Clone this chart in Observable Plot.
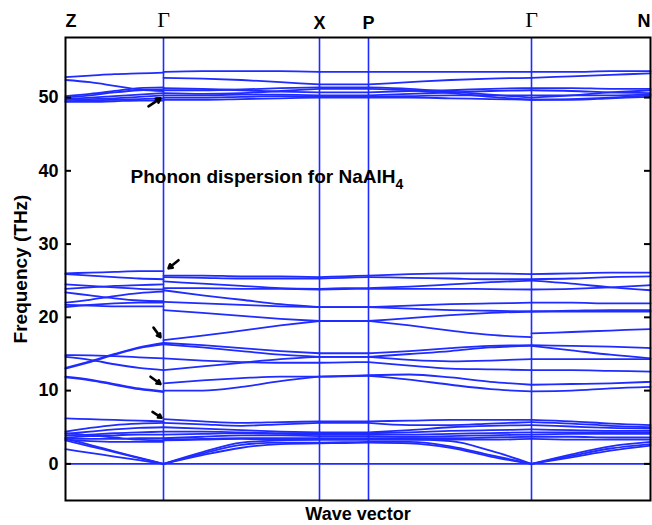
<!DOCTYPE html>
<html><head><meta charset="utf-8">
<script src="https://cdn.jsdelivr.net/npm/d3@7"></script>
<script src="https://cdn.jsdelivr.net/npm/@observablehq/plot@0.6"></script>
<style>body{margin:0;background:#fff} #chart svg{display:block}</style>
</head><body><div id="chart"></div>
<script>
// High-symmetry points along the path
const kLabels = ["Z", "Γ", "X", "P", "Γ", "N"];
const kPos = [0, 0.98, 2.54, 3.03, 4.66, 5.85];
const yTicks = [0, 10, 20, 30, 40, 50];

// sample positions of each path segment
const seg1X = [0, 0.245, 0.49, 0.735, 0.98];        // Z - Γ
const seg2X = [0.98, 1.37, 1.76, 2.15, 2.54];       // Γ - X
const seg3X = [2.54, 2.785, 3.03];                  // X - P
const seg4X = [3.03, 3.44, 3.85, 4.25, 4.66];       // P - Γ
const seg5X = [4.66, 5.06, 5.45, 5.85];             // Γ - N

// band frequencies (THz)
const seg1Bands = [
  [3.4, 2.6, 1.7, 0.85, 0], [3.2, 2.4, 1.6, 0.8, 0], [2.0, 1.5, 1.0, 0.5, 0],
  [6.2, 6.1, 6.0, 5.9, 5.8], [4.4, 4.9, 5.3, 5.5, 5.6], [4.1, 4.4, 4.7, 4.9, 5.0],
  [3.9, 4.0, 4.2, 4.3, 4.4], [3.6, 3.8, 3.9, 4.0, 4.0], [3.5, 3.4, 3.4, 3.5, 3.5],
  [3.3, 3.1, 3.0, 3.0, 3.0], [4.2, 3.9, 3.6, 3.3, 3.2],
  [13.1, 14.0, 15.0, 15.9, 16.5], [13.0, 13.9, 14.9, 15.8, 16.3], [14.85, 14.8, 14.7, 14.55, 14.4],
  [14.6, 14.2, 13.6, 13.1, 12.8], [11.9, 11.5, 10.9, 10.3, 9.9], [11.8, 11.4, 10.8, 10.2, 9.8],
  [26.0, 26.1, 26.2, 26.3, 26.3], [25.9, 25.7, 25.5, 25.3, 25.2], [24.5, 24.3, 24.1, 23.9, 23.8],
  [23.9, 24.1, 24.3, 24.4, 24.5], [23.4, 23.0, 22.6, 22.3, 22.2], [22.0, 22.4, 22.9, 23.3, 23.5],
  [21.7, 21.6, 21.5, 21.5, 21.5], [21.4, 21.7, 21.9, 22.0, 22.0],
  [52.8, 53.0, 53.2, 53.3, 53.4], [52.4, 52.1, 51.6, 51.1, 50.9], [50.2, 50.5, 50.9, 51.3, 51.4],
  [50.0, 50.3, 50.7, 51.0, 51.1], [49.8, 50.0, 50.2, 50.4, 50.6], [49.7, 49.8, 49.9, 50.1, 50.3],
  [49.5, 49.6, 49.7, 49.8, 49.9], [49.4, 49.4, 49.5, 49.6, 49.6]
];
const seg2Bands = [
  [0, 1.6, 2.9, 3.2, 3.3], [0, 1.4, 2.6, 2.9, 2.9], [0, 1.2, 2.2, 2.7, 2.8],
  [6.1, 5.8, 5.6, 5.7, 5.8], [5.6, 5.4, 5.2, 5.4, 5.6], [5.0, 4.8, 4.6, 4.4, 4.3],
  [4.4, 4.4, 4.3, 4.2, 4.2], [4.0, 4.1, 4.2, 4.1, 4.0], [3.5, 3.7, 3.9, 3.9, 3.8],
  [3.3, 3.4, 3.5, 3.5, 3.5], [3.2, 3.3, 3.4, 3.3, 3.3],
  [16.5, 16.2, 15.8, 15.4, 15.1], [16.3, 15.9, 15.4, 14.9, 14.6], [14.4, 14.1, 13.9, 13.8, 13.8],
  [12.8, 13.3, 13.8, 14.3, 14.6], [11.0, 11.4, 11.7, 11.9, 11.9], [10.0, 10.0, 10.5, 11.3, 11.9],
  [25.7, 25.7, 25.6, 25.6, 25.5], [25.5, 25.4, 25.3, 25.3, 25.3], [24.9, 24.6, 24.3, 24.0, 23.9],
  [24.0, 24.0, 23.9, 23.9, 23.8], [23.7, 23.0, 22.4, 21.8, 21.4], [22.1, 21.9, 21.7, 21.5, 21.4],
  [21.0, 20.6, 20.2, 19.8, 19.5], [16.9, 17.5, 18.2, 18.9, 19.5],
  [53.5, 53.6, 53.6, 53.6, 53.5], [52.7, 52.6, 52.4, 52.1, 51.8], [51.3, 51.2, 51.0, 50.8, 50.7],
  [51.0, 51.0, 51.1, 51.3, 51.4], [50.6, 50.5, 50.6, 50.9, 51.2], [50.3, 50.3, 50.4, 50.4, 50.3],
  [50.0, 50.0, 50.1, 50.2, 50.1], [49.7, 49.7, 49.8, 49.9, 50.0]
];
const seg3Bands = [
  [3.3, 3.3, 3.3], [2.9, 2.95, 3.0], [2.8, 2.85, 2.9], [5.8, 5.8, 5.8], [5.6, 5.6, 5.6],
  [4.3, 4.3, 4.3], [4.2, 4.2, 4.2], [4.0, 4.0, 4.0], [3.8, 3.8, 3.8], [3.5, 3.5, 3.5], [3.3, 3.3, 3.3],
  [15.1, 15.1, 15.1], [14.6, 14.6, 14.6], [14.6, 14.6, 14.6], [13.8, 13.85, 13.9],
  [11.9, 12.0, 12.1], [11.9, 11.95, 12.0],
  [25.5, 25.6, 25.7], [25.3, 25.4, 25.5], [23.9, 24.0, 24.0], [23.8, 23.85, 23.9],
  [21.4, 21.4, 21.4], [21.4, 21.4, 21.4], [19.5, 19.5, 19.5], [19.5, 19.5, 19.5],
  [53.5, 53.5, 53.5], [51.8, 51.8, 51.8], [50.7, 50.7, 50.7], [51.4, 51.4, 51.4],
  [51.2, 51.2, 51.2], [50.3, 50.3, 50.3], [50.1, 50.1, 50.1], [50.0, 50.0, 50.0]
];
const seg4Bands = [
  [3.3, 3.3, 3.1, 1.8, 0], [3.0, 3.0, 2.4, 1.2, 0], [2.9, 2.8, 2.2, 1.0, 0],
  [5.8, 5.9, 6.0, 6.0, 6.0], [5.6, 5.3, 5.3, 5.5, 5.7], [4.3, 4.6, 5.0, 5.2, 5.3],
  [4.2, 4.3, 4.5, 4.6, 4.7], [4.0, 4.0, 4.1, 4.2, 4.3], [3.8, 3.7, 3.8, 3.9, 4.0],
  [3.5, 3.5, 3.5, 3.6, 3.7], [3.3, 3.3, 3.3, 3.3, 3.4],
  [15.1, 15.4, 15.8, 16.1, 16.2], [14.6, 15.0, 15.4, 15.9, 16.1], [14.6, 14.2, 14.0, 14.1, 14.3],
  [13.9, 13.4, 13.0, 12.9, 12.8], [12.1, 12.2, 11.8, 11.2, 10.8], [12.0, 11.5, 10.8, 10.2, 9.9],
  [25.7, 25.9, 26.0, 26.0, 25.9], [25.5, 25.4, 25.3, 25.2, 25.2], [24.0, 24.2, 24.5, 24.8, 25.0],
  [23.9, 23.9, 23.9, 23.85, 23.8], [21.4, 21.6, 21.8, 21.9, 22.0], [21.4, 21.2, 21.0, 20.9, 20.8],
  [19.5, 19.9, 20.3, 20.6, 20.8], [19.5, 18.9, 18.2, 17.6, 17.3],
  [53.5, 53.5, 53.5, 53.5, 53.5], [51.8, 52.1, 52.4, 52.6, 52.7], [50.7, 50.9, 51.0, 51.2, 51.3],
  [51.4, 51.2, 50.8, 50.4, 50.0], [51.2, 51.0, 50.6, 50.1, 49.7], [50.3, 50.5, 50.7, 50.9, 51.0],
  [50.1, 50.2, 50.3, 50.3, 50.3], [50.0, 50.0, 49.9, 49.8, 49.7]
];
const seg5Bands = [
  [0, 1.3, 2.4, 3.0], [0, 1.1, 2.1, 2.7], [0, 0.9, 1.8, 2.5],
  [6.0, 5.8, 5.5, 5.3], [5.7, 5.5, 5.2, 5.0], [5.3, 5.1, 4.9, 4.8], [4.7, 4.6, 4.5, 4.5],
  [4.3, 4.3, 4.3, 4.3], [4.0, 4.1, 4.1, 4.1], [3.7, 3.7, 3.6, 3.6], [3.4, 3.3, 3.3, 3.3],
  [16.2, 16.1, 16.0, 15.8], [16.1, 15.5, 14.9, 14.4], [14.3, 14.3, 14.3, 14.3],
  [12.8, 12.8, 12.7, 12.6], [10.8, 10.9, 11.0, 11.2], [9.9, 10.0, 10.3, 10.5],
  [25.9, 26.0, 26.1, 26.1], [25.2, 25.3, 25.5, 25.6], [25.0, 24.6, 24.1, 23.7],
  [23.8, 23.9, 24.1, 24.4], [22.0, 22.0, 21.9, 21.9], [20.8, 20.9, 21.0, 21.0],
  [20.8, 20.8, 20.8, 20.8], [17.8, 18.0, 18.2, 18.4],
  [53.5, 53.5, 53.6, 53.6], [52.7, 52.9, 53.1, 53.3], [51.3, 51.3, 51.2, 51.2],
  [50.0, 50.3, 50.7, 51.0], [49.7, 49.8, 50.0, 50.3], [51.0, 50.9, 50.7, 50.6],
  [50.3, 50.3, 50.3, 50.4], [49.7, 49.7, 49.9, 50.1]
];

// annotation arrows (tail -> head) near Γ
const arrowX1 = [0.83, 1.13, 0.88, 0.85, 0.87];
const arrowY1 = [48.8, 27.8, 18.6, 11.9, 7.1];
const arrowX2 = [0.95, 1.03, 0.95, 0.95, 0.96];
const arrowY2 = [49.9, 26.7, 17.3, 10.9, 6.3];

const noteText = "Phonon dispersion for NaAlH";
const noteSub = "4";
const noteX = 0.65, noteY = 39.2;

// ---- build tables ----
const segments = [[seg1X, seg1Bands], [seg2X, seg2Bands], [seg3X, seg3Bands], [seg4X, seg4Bands], [seg5X, seg5Bands]];
const bandRows = [];
segments.forEach(([xs, bands], s) => {
  bands.forEach((b, j) => b.forEach((v, i) => bandRows.push({x: xs[i], y: v, id: s + "-" + j})));
});
const arrowRows = arrowX1.map((d, i) => ({x1: d, y1: arrowY1[i], x2: arrowX2[i], y2: arrowY2[i]}));
const labelRows = kLabels.map((t, i) => ({t, x: kPos[i], i}));

const blue = "#1f2bff";
const font = "'Liberation Sans', Arial, Helvetica, sans-serif";

const svg = Plot.plot({
  width: 652, height: 525,
  marginLeft: 65, marginRight: 2, marginTop: 37, marginBottom: 25,
  style: {fontFamily: font, background: "white", color: "black"},
  x: {domain: [0, 5.85], axis: null},
  y: {domain: [-5, 58.2], axis: null},
  marks: [
    Plot.ruleY([0], {stroke: blue, strokeWidth: 1.6}),
    Plot.ruleX(kPos.slice(1, 5), {stroke: blue, strokeWidth: 1.6}),
    Plot.line(bandRows, {x: "x", y: "y", z: "id", stroke: blue, strokeWidth: 1.8, curve: "monotone-x"}),
    Plot.arrow(arrowRows, {x1: "x1", y1: "y1", x2: "x2", y2: "y2", stroke: "black", strokeWidth: 2.6, headLength: 6}),
    Plot.tickY(yTicks, {y: d => d, stroke: "black", strokeWidth: 2, insetRight: 579}),
    Plot.tickY(yTicks, {y: d => d, stroke: "black", strokeWidth: 2, insetLeft: 579}),
    Plot.axisY({ticks: yTicks, tickSize: 0, tickPadding: 7, fontSize: 18, fontWeight: "bold", label: null}),
    Plot.frame({stroke: "black", strokeWidth: 2}),
    Plot.text(labelRows.filter(d => d.i === 0), {x: "x", text: "t", frameAnchor: "top", dy: -23, textAnchor: "start", fontSize: 18, fontWeight: "bold"}),
    Plot.text(labelRows.filter(d => d.t !== "Γ" && d.i > 0 && d.i < 5), {x: "x", text: "t", frameAnchor: "top", dy: -21, fontSize: 18, fontWeight: "bold"}),
    Plot.text(labelRows.filter(d => d.i === 5), {x: "x", text: "t", frameAnchor: "top", dy: -23, textAnchor: "end", fontSize: 18, fontWeight: "bold"}),
    Plot.text(labelRows.filter(d => d.t === "Γ"), {x: "x", text: "t", frameAnchor: "top", dy: -26, fontSize: 22, fontFamily: "'Liberation Serif', 'Times New Roman', serif"}),
    Plot.text([noteText], {x: noteX, y: noteY, text: d => d, textAnchor: "start", fontSize: 19, fontWeight: "bold"}),
    Plot.text(["Frequency (THz)"], {frameAnchor: "left", dx: -45, rotate: -90, textAnchor: "middle", text: d => d, fontSize: 19, fontWeight: "bold"}),
    Plot.text(["Wave vector"], {frameAnchor: "bottom", dy: 19, text: d => d, fontSize: 18, fontWeight: "bold"})
  ]
});

d3.select(svg).selectAll("text")
  .filter(function () { return this.textContent === noteText; })
  .append("tspan").attr("dy", "6").attr("font-size", "14").text(noteSub);

document.getElementById("chart").appendChild(svg);
</script>
</body></html>
